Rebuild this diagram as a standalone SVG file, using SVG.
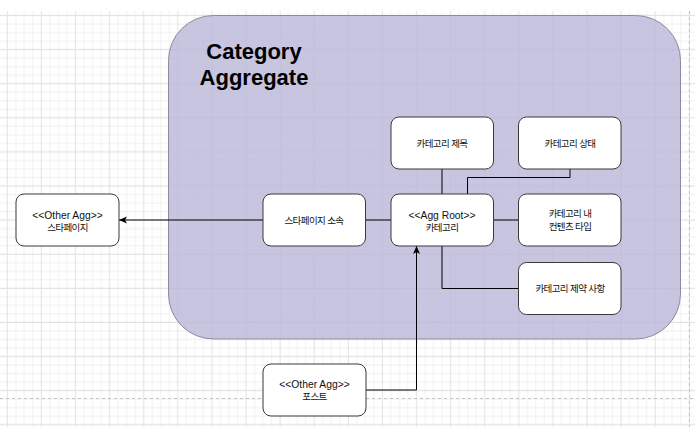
<svg xmlns="http://www.w3.org/2000/svg" width="700" height="436" viewBox="0 0 700 436">
<defs>
<pattern id="grid" patternUnits="userSpaceOnUse" x="3.04" y="11.24" width="34.1" height="34.1">
<path d="M12.79 0V34.1M21.31 0V34.1M29.84 0V34.1M0 12.79H34.1M0 21.31H34.1M0 29.84H34.1" stroke="#f2f2f2" stroke-width="1" fill="none"/>
<path d="M4.26 0V34.1M0 4.26H34.1" stroke="#e2e2e2" stroke-width="1" fill="none"/>
</pattern>
<marker id="arr" markerWidth="10" markerHeight="10" refX="8" refY="3.5" orient="auto" markerUnits="userSpaceOnUse">
<path d="M0,0 L8,3.5 L0,7 L2,3.5 z" fill="#000"/>
</marker>
<style>
.node rect{fill:#fff;stroke:#3a3a3a;stroke-width:1}
.t{font-family:"Liberation Sans","Noto Sans CJK KR",sans-serif;font-size:10.3px;text-anchor:middle;fill:#111}
.ko{font-size:9.5px;letter-spacing:-0.6px}
.title{font-family:"Liberation Sans",Arial,sans-serif;font-size:22px;font-weight:bold;text-anchor:middle;fill:#000}
.conn path{fill:none;stroke:#000;stroke-width:1}
.page{stroke:#c4c4c4;stroke-width:1;stroke-dasharray:3 3;fill:none}
</style>
</defs>
<rect x="0" y="0" width="700" height="436" fill="#fff"/>
<rect x="0" y="11" width="695" height="416" fill="url(#grid)"/>
<path class="page" d="M0 398.5H695M689.5 11V427"/>
<g id="category-aggregate">
<rect x="168.5" y="15.5" width="512" height="323.5" rx="45" ry="45" fill="#bab6d9" fill-opacity="0.8" stroke="#8c8a9c" stroke-width="1"/>
<text class="title" x="254" y="58.5">Category</text>
<text class="title" x="254" y="85">Aggregate</text>
</g>
<g id="connectors" class="conn">
<path d="M391 220H365"/>
<path d="M263 220H119" marker-end="url(#arr)"/>
<path d="M442 169V194"/>
<path d="M570 169V177.5H467.5V194"/>
<path d="M493 220H518"/>
<path d="M442 246V288.5H518"/>
<path d="M366 390H416.5V246" marker-end="url(#arr)"/>
</g>
<g id="node-title" class="node">
<rect x="391" y="117" width="102.5" height="52" rx="8"/>
<text class="t ko" x="442" y="146.5">카테고리 제목</text>
</g>
<g id="node-status" class="node">
<rect x="518.5" y="117" width="102.5" height="52" rx="8"/>
<text class="t ko" x="570" y="146.5">카테고리 상태</text>
</g>
<g id="node-stapage-belong" class="node">
<rect x="263" y="194" width="102.5" height="52" rx="8"/>
<text class="t ko" x="314" y="223.5">스타페이지 소속</text>
</g>
<g id="node-agg-root" class="node">
<rect x="391" y="194" width="102.5" height="52" rx="8"/>
<text class="t" x="442" y="218.5">&lt;&lt;Agg Root&gt;&gt;</text>
<text class="t ko" x="442" y="230.5">카테고리</text>
</g>
<g id="node-content-type" class="node">
<rect x="518.5" y="194" width="102.5" height="52" rx="8"/>
<text class="t ko" x="570" y="216.8">카테고리 내</text>
<text class="t ko" x="570" y="230.2">컨텐츠 타입</text>
</g>
<g id="node-constraint" class="node">
<rect x="518.5" y="262.5" width="102.5" height="52" rx="8"/>
<text class="t ko" x="570" y="292">카테고리 제약 사항</text>
</g>
<g id="node-other-stapage" class="node">
<rect x="16" y="194" width="103" height="52" rx="8"/>
<text class="t" x="67.5" y="218.5">&lt;&lt;Other Agg&gt;&gt;</text>
<text class="t ko" x="67.5" y="230.5">스타페이지</text>
</g>
<g id="node-other-post" class="node">
<rect x="263" y="364" width="103" height="52" rx="8"/>
<text class="t" x="314.5" y="388.3">&lt;&lt;Other Agg&gt;&gt;</text>
<text class="t ko" x="314.5" y="400.3">포스트</text>
</g>
</svg>
